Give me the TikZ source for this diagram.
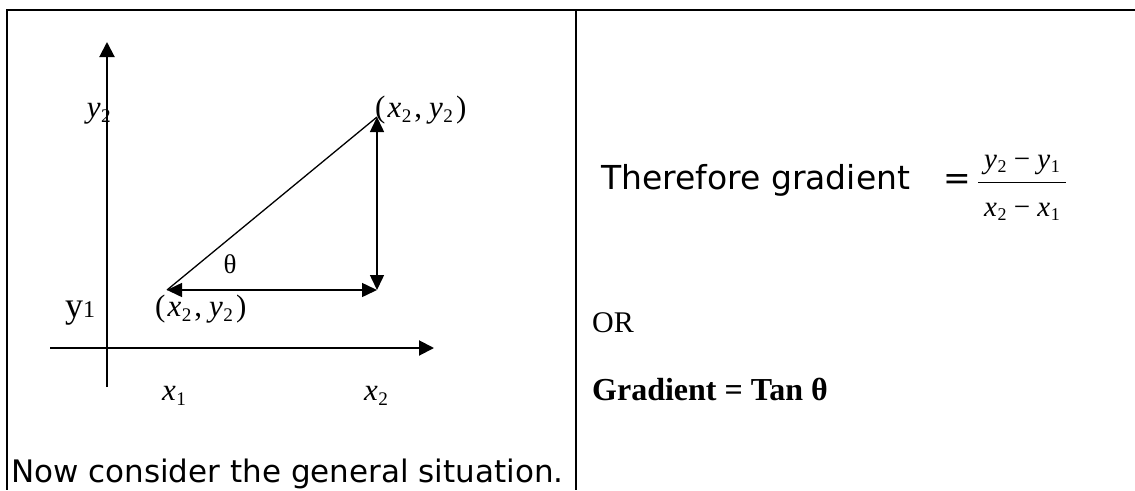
\documentclass[tikz,border=0pt]{standalone}
\usepackage{fontspec}
\setmainfont{Liberation Serif}
\newfontfamily\comicfont{DejaVu Sans}
\usepackage{graphicx}
\usetikzlibrary{arrows.meta, positioning}

\newcommand{\fsz}[1]{\fontsize{#1}{#1}\selectfont}
\newcommand{\vr}[2]{\textit{#1}\kern0.5pt\raisebox{-0.17em}{\scalebox{0.62}{#2}}}
\newcommand{\pnt}[2]{(\kern2pt\vr{x}{#1}\kern3pt,\kern7pt\vr{y}{#2}\kern3pt)}

\begin{document}
\begin{tikzpicture}[
  x=1pt, y=-1pt,
  frame/.style={line width=2pt},
  axis/.style={line width=2pt, -{Triangle[length=15pt, width=15pt]}},
  side/.style={line width=1.3pt},
  twoway/.style={line width=1.5pt,
    {Triangle[length=15pt, width=14pt]}-{Triangle[length=15pt, width=14pt]}},
  lbl/.style={inner sep=0pt, font=\fsz{31}},
  note/.style={inner sep=0pt, anchor=base west, font=\comicfont\fsz{31}},
]

  \useasboundingbox (0,0) rectangle (1135,490);

  % Frame and divider
  \coordinate (tl) at (7,10);
  \coordinate (tr) at (1135,10);
  \coordinate (bl) at (7,490);
  \coordinate (divtop) at (576,10);
  \coordinate (divbot) at (576,490);
  \draw[frame] (tr) -- (tl) -- (bl);
  \draw[frame] (divtop) -- (divbot);

  % Axes
  \coordinate (ybot) at (107,387);
  \coordinate (ytop) at (107,42);
  \coordinate (xleft) at (50,348);
  \coordinate (xright) at (434,348);
  \draw[axis] (ybot) -- (ytop);
  \draw[axis] (xleft) -- (xright);

  % Right triangle
  \coordinate (pA) at (167,290);
  \coordinate (pB) at (377,290);
  \coordinate (pC) at (377,117);
  \draw[side] (pA) -- (pC);
  \draw[twoway] (pA) -- (pB);
  \draw[twoway] (pB) -- (pC);

  % Labels of the plot
  \node[lbl, anchor=base, font=\fsz{27}] (theta) at (230,273) {θ};
  \node[lbl, anchor=base east] (ytwo) at (111,117) {\vr{y}{2}};
  \node[lbl, anchor=base] (yone) at (80,317) {\fsz{36}y\fsz{24}1};
  \node[lbl, anchor=base west] (ptC) at (375,117) {\pnt{2}{2}};
  \node[lbl, anchor=base west] (ptA) at (155,316) {\pnt{2}{2}};
  \node[lbl, anchor=base] (xone) at (174,400) {\vr{x}{1}};
  \node[lbl, anchor=base] (xtwo) at (376,400) {\vr{x}{2}};

  % Caption under the plot
  \node[note] (general) at (11,482) {Now consider the general situation.};

  % Gradient as a fraction
  \node[note, font=\comicfont\fsz{33}] (therefore) at (601,189) {Therefore gradient};
  \node[note, font=\comicfont\fsz{33}] (equals) at (943,189) {=};
  \coordinate (barL) at (978,182);
  \coordinate (barR) at (1066,182);
  \draw[line width=1pt] (barL) -- (barR);
  \node[lbl, anchor=base, font=\fsz{29}] (num) at (1022,168) {\vr{y}{2} − \vr{y}{1}};
  \node[lbl, anchor=base, font=\fsz{29}] (den) at (1022,216) {\vr{x}{2} − \vr{x}{1}};

  % Other form
  \node[lbl, anchor=base west, font=\fsz{30}] (orword) at (592,332) {OR};
  \node[lbl, anchor=base west, font=\bfseries\fsz{32}] (tanform) at (592,400) {Gradient = Tan θ};

\end{tikzpicture}
\end{document}
